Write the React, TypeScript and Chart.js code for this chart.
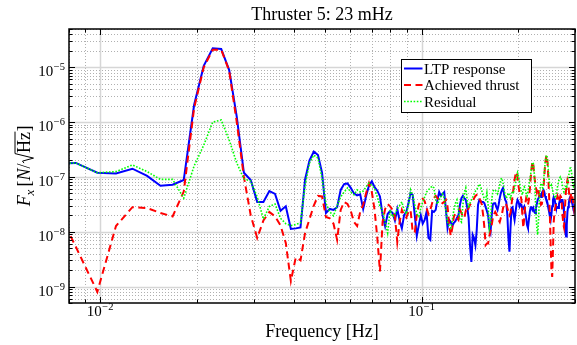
import React, { useEffect, useRef } from "react";
import { Chart, registerables } from "chart.js";

Chart.register(...registerables);

const TITLE = "Thruster 5: 23 mHz";
const X_LABEL = "Frequency [Hz]";
const SERIES_LABELS = ["LTP response", "Achieved thrust", "Residual"];

// Spectral bins: f = (FIRST_BIN + i) * BIN_WIDTH_HZ
const BIN_WIDTH_HZ = 0.0014;
const FIRST_BIN = 5;

const X_RANGE = [0.008, 0.3];
const Y_RANGE = [5e-10, 5e-5];
const X_LABEL_EXPONENTS = [-2, -1];
const Y_LABEL_EXPONENTS = [-9, -8, -7, -6, -5];

// LTP response [N/sqrt(Hz)]
const ltpResponse = [
  1.7e-7, 1.8e-7, 1.19e-7, 1.15e-7, 1.41e-7, 1.04e-7, 6.9e-8, 7.2e-8, 8.8e-8, 2.05e-6,
  1.06e-5, 2.22e-5, 2.16e-5, 8.9e-6, 1.26e-6, 1.19e-7, 8.8e-8, 3.5e-8, 3.5e-8, 5.5e-8,
  4.9e-8, 2.4e-8, 2.9e-8, 1.12e-8, 1.15e-8, 1.2e-8, 9.0e-8, 2.0e-7, 2.9e-7, 2.5e-7,
  1.2e-7, 2.2e-8, 2.6e-8, 2.5e-8, 2.8e-8, 5.8e-8, 7.4e-8, 7.6e-8, 6.3e-8, 5.0e-8,
  4.6e-8, 4.8e-8, 2.6e-8, 4.5e-8, 7.0e-8, 8.3e-8, 6.5e-8, 5.6e-8, 4.4e-8, 2.0e-8,
  1.25e-8, 2.1e-8, 2.4e-8, 2.2e-8, 1.6e-8, 2.6e-8, 1.6e-8, 1.15e-8, 2.0e-8, 2.3e-8,
  3.3e-8, 5.1e-8, 4.7e-8, 2.0e-8, 8.4e-9, 1.32e-8, 2.0e-8, 1.4e-8, 1.64e-8, 2.3e-8,
  7.7e-9, 7.1e-9, 2.4e-8, 2.3e-8, 2.5e-8, 3.8e-8, 5.3e-8, 4.5e-8, 4.9e-8, 5.3e-8,
  2.5e-8, 1.17e-8, 1.64e-8, 1.5e-8, 1.27e-8, 1.45e-8, 1.55e-8, 1.8e-8, 2.0e-8, 3.1e-8,
  4.1e-8, 4.5e-8, 4.1e-8, 3.8e-8, 2.8e-8, 1.8e-8, 5.7e-9, 2.8e-9, 8.8e-9, 7.7e-9,
  5.7e-9, 1.07e-8, 3.1e-8, 3.8e-8, 3.6e-8, 3.5e-8, 3.5e-8, 3.3e-8, 2.8e-8, 2.4e-8,
  2.0e-8, 1.17e-8, 9.8e-9, 2.0e-8, 3.2e-8, 3.3e-8, 3.3e-8, 2.8e-8, 2.5e-8, 3.1e-8,
  4.1e-8, 5.1e-8, 5.8e-8, 6.3e-8, 4.7e-8, 3.8e-8, 3.5e-8, 2.0e-8, 7.7e-9, 4.3e-9,
  1.17e-8, 2.7e-8, 2.8e-8, 2.1e-8, 1.64e-8, 2.3e-8, 3.2e-8, 3.8e-8, 3.5e-8, 2.9e-8,
  3.2e-8, 3.1e-8, 2.5e-8, 2.7e-8, 2.9e-8, 2.3e-8, 1.8e-8, 1.32e-8, 1.17e-8, 1.64e-8,
  2.3e-8, 2.8e-8, 2.8e-8, 2.5e-8, 2.7e-8, 2.3e-8, 2.2e-8, 2.7e-8, 3.2e-8, 3.8e-8,
  4.1e-8, 4.5e-8, 4.7e-8, 4.3e-8, 5.1e-8, 5.5e-8, 5.8e-8, 5.3e-8, 4.5e-8, 4.0e-8,
  3.8e-8, 3.3e-8, 2.7e-8, 2.3e-8, 1.9e-8, 1.64e-8, 2.1e-8, 2.9e-8, 3.8e-8, 4.3e-8,
  4.1e-8, 3.3e-8, 2.9e-8, 2.7e-8, 2.8e-8, 2.7e-8, 3.2e-8, 3.6e-8, 3.8e-8, 3.5e-8,
  3.8e-8, 3.8e-8, 3.1e-8, 2.3e-8, 1.5e-8, 9.8e-9, 8.2e-9, 1.32e-8, 2.3e-8, 2.8e-8,
  3.3e-8, 4.0e-8, 4.3e-8, 4.3e-8, 3.8e-8, 3.3e-8, 2.9e-8, 2.5e-8, 2.5e-8, 2.8e-8,
  3.2e-8, 3.1e-8,
];

// Achieved thrust [N/sqrt(Hz)]
const achievedThrust = [
  4.7e-8, 5.3e-9, 8.0e-10, 1.27e-8, 2.8e-8, 2.7e-8, 2.2e-8, 1.9e-8, 5.4e-8, 1.8e-6,
  1.0e-5, 2.1e-5, 2.1e-5, 8.6e-6, 1.0e-6, 1.0e-7, 2.0e-8, 7.7e-9, 1.6e-8, 2.3e-8,
  1.9e-8, 1.3e-8, 6.2e-9, 1.26e-9, 3.4e-9, 3.0e-9, 9.5e-9, 1.7e-8, 3.0e-8, 4.5e-8,
  4.4e-8, 1.85e-8, 1.75e-8, 1.4e-8, 7.1e-9, 2.5e-8, 3.5e-8, 3.2e-8, 2.4e-8, 1.5e-8,
  1.27e-8, 2.3e-8, 3.1e-8, 5.1e-8, 7.7e-8, 5.3e-8, 2.5e-8, 7.7e-9, 1.88e-9, 1.5e-8,
  2.6e-8, 3.2e-8, 2.9e-8, 2.5e-8, 1.9e-8, 6.5e-9, 1.5e-8, 2.5e-8, 2.0e-8, 1.8e-8,
  2.3e-8, 2.5e-8, 9.8e-9, 9.8e-9, 2.0e-8, 3.1e-8, 3.8e-8, 4.0e-8, 3.6e-8, 2.7e-8,
  2.1e-8, 2.5e-8, 3.3e-8, 4.1e-8, 4.5e-8, 4.1e-8, 3.8e-8, 3.5e-8, 3.3e-8, 3.5e-8,
  3.8e-8, 2.9e-8, 1.32e-8, 8.4e-9, 1.17e-8, 1.9e-8, 2.1e-8, 1.8e-8, 1.64e-8, 2.5e-8,
  2.2e-8, 1.85e-8, 1.8e-8, 2.4e-8, 2.2e-8, 2.7e-8, 3.1e-8, 3.3e-8, 3.6e-8, 4.1e-8,
  4.5e-8, 4.7e-8, 4.7e-8, 4.1e-8, 3.6e-8, 3.1e-8, 2.0e-8, 1.17e-8, 5.7e-9, 6.1e-9,
  6.1e-9, 8.4e-9, 1.03e-8, 1.32e-8, 1.8e-8, 2.1e-8, 2.3e-8, 2.1e-8, 1.9e-8, 1.64e-8,
  1.5e-8, 1.8e-8, 2.1e-8, 2.7e-8, 3.2e-8, 3.3e-8, 3.1e-8, 2.7e-8, 2.3e-8, 2.0e-8,
  2.2e-8, 3.1e-8, 4.5e-8, 6.3e-8, 8.8e-8, 1.12e-7, 1.23e-7, 9.5e-8, 6.8e-8, 5.3e-8,
  4.7e-8, 3.8e-8, 2.0e-8, 1.17e-8, 1.8e-8, 3.1e-8, 4.1e-8, 3.8e-8, 3.1e-8, 3.8e-8,
  5.8e-8, 9.5e-8, 1.45e-7, 1.9e-7, 1.65e-7, 1.08e-7, 8.0e-8, 6.3e-8, 5.3e-8, 6.3e-8,
  5.8e-8, 4.5e-8, 3.8e-8, 3.1e-8, 3.2e-8, 4.1e-8, 6.3e-8, 1.03e-7, 1.65e-7, 2.2e-7,
  2.5e-7, 1.85e-7, 9.5e-8, 4.5e-8, 2.0e-8, 5.7e-9, 2.0e-9, 1.5e-9, 4.6e-9, 1.5e-8,
  2.3e-8, 2.7e-8, 3.2e-8, 3.8e-8, 4.5e-8, 4.1e-8, 3.5e-8, 4.0e-8, 4.5e-8, 4.3e-8,
  3.1e-8, 2.0e-8, 1.38e-8, 1.2e-8, 2.0e-8, 3.8e-8, 5.8e-8, 7.4e-8, 8.8e-8, 8.0e-8,
  5.8e-8, 4.1e-8, 3.8e-8, 4.5e-8, 5.1e-8, 4.5e-8, 3.8e-8, 3.1e-8, 2.5e-8, 2.9e-8,
  3.5e-8, 3.2e-8,
];

// Residual [N/sqrt(Hz)]
const residual = [
  1.7e-7, 1.8e-7, 1.19e-7, 1.25e-7, 1.65e-7, 1.25e-7, 9.0e-8, 9.0e-8, 4.1e-8, 1.58e-7,
  3.8e-7, 1.0e-6, 1.09e-6, 4.7e-7, 1.8e-7, 9.2e-8, 8.4e-8, 4.3e-8, 1.7e-8, 2.9e-8,
  3.2e-8, 1.75e-8, 1.4e-8, 1.3e-8, 1.35e-8, 1.45e-8, 7.0e-8, 1.8e-7, 2.5e-7, 2.2e-7,
  9.5e-8, 3.3e-8, 2.3e-8, 1.95e-8, 3.0e-8, 4.3e-8, 5.3e-8, 6.3e-8, 5.3e-8, 4.7e-8,
  5.8e-8, 5.3e-8, 5.5e-8, 6.6e-8, 7.7e-8, 7.0e-8, 6.1e-8, 4.3e-8, 2.9e-8, 2.3e-8,
  1.5e-8, 9.5e-9, 2.5e-8, 1.85e-8, 2.1e-8, 2.6e-8, 3.0e-8, 3.5e-8, 2.5e-8, 2.1e-8,
  3.0e-8, 5.8e-8, 4.7e-8, 3.1e-8, 2.1e-8, 1.9e-8, 2.7e-8, 3.5e-8, 4.3e-8, 5.3e-8,
  5.8e-8, 6.3e-8, 6.8e-8, 6.3e-8, 3.8e-8, 3.2e-8, 3.8e-8, 4.3e-8, 4.9e-8, 4.1e-8,
  2.5e-8, 1.5e-8, 1.27e-8, 1.17e-8, 1.64e-8, 2.5e-8, 3.3e-8, 3.8e-8, 2.5e-8, 1.64e-8,
  1.5e-8, 3.1e-8, 5.3e-8, 6.3e-8, 3.8e-8, 2.7e-8, 3.3e-8, 3.8e-8, 4.3e-8, 4.9e-8,
  5.5e-8, 5.8e-8, 6.6e-8, 7.4e-8, 6.8e-8, 5.5e-8, 4.5e-8, 4.0e-8, 3.8e-8, 5.1e-8,
  3.1e-8, 1.17e-8, 1.5e-8, 3.8e-8, 5.5e-8, 5.8e-8, 5.8e-8, 5.3e-8, 4.9e-8, 5.8e-8,
  7.1e-8, 9.1e-8, 9.5e-8, 7.7e-8, 5.8e-8, 4.7e-8, 4.1e-8, 4.5e-8, 5.1e-8, 4.7e-8,
  4.1e-8, 4.9e-8, 5.5e-8, 5.3e-8, 6.3e-8, 8.0e-8, 1.03e-7, 1.2e-7, 1.03e-7, 8.0e-8,
  6.3e-8, 5.3e-8, 4.7e-8, 5.8e-8, 6.6e-8, 6.1e-8, 5.1e-8, 4.5e-8, 5.3e-8, 6.8e-8,
  8.8e-8, 1.12e-7, 1.5e-7, 1.85e-7, 1.75e-7, 1.23e-7, 5.8e-8, 2.3e-8, 1.17e-8, 8.8e-9,
  1.64e-8, 3.8e-8, 6.3e-8, 7.7e-8, 6.8e-8, 6.3e-8, 8.0e-8, 1.23e-7, 1.8e-7, 2.3e-7,
  2.5e-7, 2.0e-7, 1.34e-7, 8.8e-8, 6.8e-8, 6.6e-8, 7.1e-8, 6.3e-8, 5.3e-8, 4.7e-8,
  4.3e-8, 4.1e-8, 4.5e-8, 5.3e-8, 6.6e-8, 7.7e-8, 8.8e-8, 9.5e-8, 1.0e-7, 9.5e-8,
  8.0e-8, 6.8e-8, 5.8e-8, 5.3e-8, 5.8e-8, 6.6e-8, 6.8e-8, 6.3e-8, 7.1e-8, 8.8e-8,
  1.08e-7, 1.28e-7, 1.45e-7, 1.45e-7, 1.23e-7, 9.5e-8, 7.4e-8, 6.6e-8, 6.8e-8, 8.0e-8,
  9.5e-8, 1.03e-7,
];

const SERIF = '"Liberation Serif", "Times New Roman", serif';
const COLORS = ["#0000ff", "#ff0000", "#00ff00"];
const WIDTHS = [2, 2, 1.6];
const DASHES: number[][] = [[], [7, 4.5], [1.6, 1.6]];

const frequencyOf = (i: number) => (FIRST_BIN + i) * BIN_WIDTH_HZ;
const toPoints = (vals: number[]) => vals.map((v, i) => ({ x: frequencyOf(i), y: v }));

function logTicks(min: number, max: number) {
  const out: { v: number; major: boolean }[] = [];
  for (let e = Math.floor(Math.log10(min)); e <= Math.ceil(Math.log10(max)); e++) {
    for (let m = 1; m <= 9; m++) {
      const v = m * Math.pow(10, e);
      if (v >= min * 0.9999 && v <= max * 1.0001) out.push({ v, major: m === 1 });
    }
  }
  return out;
}

function drawPower(ctx: CanvasRenderingContext2D, exp: number, x: number, baseline: number, align: "center" | "right") {
  const base = "10";
  const sup = "\u2212" + String(Math.abs(exp));
  ctx.font = `15px ${SERIF}`;
  const wb = ctx.measureText(base).width;
  ctx.font = `10.5px ${SERIF}`;
  const ws = ctx.measureText(sup).width;
  const total = wb + ws + 0.5;
  const start = align === "center" ? x - total / 2 : x - total;
  ctx.textAlign = "left";
  ctx.textBaseline = "alphabetic";
  ctx.font = `15px ${SERIF}`;
  ctx.fillText(base, start, baseline);
  ctx.font = `10.5px ${SERIF}`;
  ctx.fillText(sup, start + wb + 0.5, baseline - 6);
}

const matlabAxes = {
  id: "matlabAxes",
  beforeDatasetsDraw(chart: any) {
    const { ctx, chartArea: a, scales } = chart;
    const xs = scales.x;
    const ys = scales.y;
    ctx.save();
    ctx.beginPath();
    ctx.rect(a.left, a.top, a.right - a.left, a.bottom - a.top);
    ctx.clip();
    const setStyle = (major: boolean) => {
      if (major) {
        ctx.setLineDash([]);
        ctx.strokeStyle = "#d6d6d6";
        ctx.lineWidth = 1.5;
      } else {
        ctx.setLineDash([1, 2]);
        ctx.strokeStyle = "#b0b0b0";
        ctx.lineWidth = 1;
      }
    };
    for (const t of logTicks(X_RANGE[0], X_RANGE[1])) {
      const px = Math.round(xs.getPixelForValue(t.v)) + 0.5;
      setStyle(t.major);
      ctx.beginPath();
      ctx.moveTo(px, a.top);
      ctx.lineTo(px, a.bottom);
      ctx.stroke();
    }
    for (const t of logTicks(Y_RANGE[0], Y_RANGE[1])) {
      const py = Math.round(ys.getPixelForValue(t.v)) + 0.5;
      setStyle(t.major);
      ctx.beginPath();
      ctx.moveTo(a.left, py);
      ctx.lineTo(a.right, py);
      ctx.stroke();
    }
    ctx.restore();
  },
  afterDatasetsDraw(chart: any) {
    const { ctx, chartArea: a, scales } = chart;
    const xs = scales.x;
    const ys = scales.y;
    ctx.save();
    ctx.setLineDash([]);
    ctx.strokeStyle = "#000";
    ctx.fillStyle = "#000";
    // ticks (inward, all four sides)
    ctx.lineWidth = 1;
    ctx.beginPath();
    for (const t of logTicks(X_RANGE[0], X_RANGE[1])) {
      const px = Math.round(xs.getPixelForValue(t.v)) + 0.5;
      const len = t.major ? 6 : 3.5;
      ctx.moveTo(px, a.bottom);
      ctx.lineTo(px, a.bottom - len);
      ctx.moveTo(px, a.top);
      ctx.lineTo(px, a.top + len);
    }
    for (const t of logTicks(Y_RANGE[0], Y_RANGE[1])) {
      const py = Math.round(ys.getPixelForValue(t.v)) + 0.5;
      const len = t.major ? 6 : 3.5;
      ctx.moveTo(a.left, py);
      ctx.lineTo(a.left + len, py);
      ctx.moveTo(a.right, py);
      ctx.lineTo(a.right - len, py);
    }
    ctx.stroke();
    // frame
    ctx.lineWidth = 1.5;
    ctx.strokeRect(a.left, a.top, a.right - a.left, a.bottom - a.top);

    // tick labels
    for (const e of X_LABEL_EXPONENTS) {
      const px = xs.getPixelForValue(Math.pow(10, e));
      drawPower(ctx, e, px, a.bottom + 13, "center");
    }
    for (const e of Y_LABEL_EXPONENTS) {
      const py = ys.getPixelForValue(Math.pow(10, e));
      drawPower(ctx, e, a.left - 4, py + 9, "right");
    }

    // title
    const cx = (a.left + a.right) / 2;
    ctx.font = `18px ${SERIF}`;
    ctx.textAlign = "center";
    ctx.textBaseline = "alphabetic";
    ctx.fillText(TITLE, cx, 20);
    // x label
    ctx.fillText(X_LABEL, cx, a.bottom + 34);

    // y label: F_x [N/sqrt(Hz)], rotated
    const cy = (a.top + a.bottom) / 2;
    ctx.save();
    ctx.translate(30, cy);
    ctx.rotate(-Math.PI / 2);
    ctx.textAlign = "left";
    const big = `18px ${SERIF}`;
    const bigIt = `italic 18px ${SERIF}`;
    const smallIt = `italic 13px ${SERIF}`;
    const parts: { t: string; f: string; dy: number; gap: number }[] = [
      { t: "F", f: bigIt, dy: 0, gap: 0 },
      { t: "x", f: smallIt, dy: 4, gap: 3 },
      { t: "[", f: big, dy: 0, gap: 0 },
      { t: "N", f: bigIt, dy: 0, gap: 0 },
      { t: "/", f: big, dy: 0, gap: 0 },
    ];
    let total = 0;
    for (const p of parts) {
      ctx.font = p.f;
      total += ctx.measureText(p.t).width + p.gap;
    }
    ctx.font = big;
    const wHz = ctx.measureText("Hz").width;
    const wBr = ctx.measureText("]").width;
    const radW = 10;
    total += radW + wHz + 1 + wBr;
    let xx = -total / 2;
    for (const p of parts) {
      ctx.font = p.f;
      ctx.fillText(p.t, xx, p.dy);
      xx += ctx.measureText(p.t).width + p.gap;
    }
    ctx.lineWidth = 1;
    ctx.beginPath();
    ctx.moveTo(xx + 0.5, -6);
    ctx.lineTo(xx + 2.5, -7.5);
    ctx.lineTo(xx + 5.5, 3.5);
    ctx.lineTo(xx + radW, -15);
    ctx.lineTo(xx + radW + wHz + 1, -15);
    ctx.stroke();
    ctx.font = big;
    ctx.fillText("Hz", xx + radW + 0.5, 0);
    ctx.fillText("]", xx + radW + wHz + 1, 0);
    ctx.restore();

    // legend
    const lx = 401.5;
    const ly = 59.5;
    const lw = 130;
    const lh = 53;
    ctx.fillStyle = "#fff";
    ctx.fillRect(lx, ly, lw, lh);
    ctx.strokeStyle = "#000";
    ctx.lineWidth = 1;
    ctx.setLineDash([]);
    ctx.strokeRect(lx, ly, lw, lh);
    const rows = [68.5, 85, 101.5];
    SERIES_LABELS.forEach((label, i) => {
      ctx.strokeStyle = COLORS[i];
      ctx.lineWidth = WIDTHS[i];
      ctx.setLineDash(DASHES[i]);
      ctx.beginPath();
      ctx.moveTo(lx + 2.5, rows[i]);
      ctx.lineTo(lx + 21, rows[i]);
      ctx.stroke();
      ctx.setLineDash([]);
      ctx.fillStyle = "#000";
      ctx.font = `15px ${SERIF}`;
      ctx.textAlign = "left";
      ctx.fillText(label, lx + 22.5, rows[i] + 5);
    });
    ctx.restore();
  },
};

export default function App() {
  const canvasRef = useRef<HTMLCanvasElement | null>(null);
  useEffect(() => {
    const canvas = canvasRef.current;
    if (!canvas) return;
    const series = [ltpResponse, achievedThrust, residual];
    const chart = new Chart(canvas, {
      type: "line",
      data: {
        datasets: series.map((vals, i) => ({
          label: SERIES_LABELS[i],
          data: toPoints(vals),
          borderColor: COLORS[i],
          backgroundColor: COLORS[i],
          borderWidth: WIDTHS[i],
          borderDash: DASHES[i],
          pointRadius: 0,
          tension: 0,
          fill: false,
          order: 2 - i,
        })),
      },
      options: {
        animation: false,
        responsive: false,
        events: [],
        layout: { padding: { left: 69, right: 2, top: 29, bottom: 42 } },
        scales: {
          x: { type: "logarithmic", min: X_RANGE[0], max: X_RANGE[1], display: false },
          y: { type: "logarithmic", min: Y_RANGE[0], max: Y_RANGE[1], display: false },
        },
        plugins: {
          legend: { display: false },
          tooltip: { enabled: false },
          title: { display: false },
        },
      },
      plugins: [matlabAxes],
    } as any);
    return () => chart.destroy();
  }, []);
  return (
    <div style={{ position: "fixed", left: 0, top: 0, width: 577, height: 345, background: "#fff" }}>
      <canvas ref={canvasRef} width={577} height={345} style={{ width: 577, height: 345, display: "block" }} />
    </div>
  );
}
